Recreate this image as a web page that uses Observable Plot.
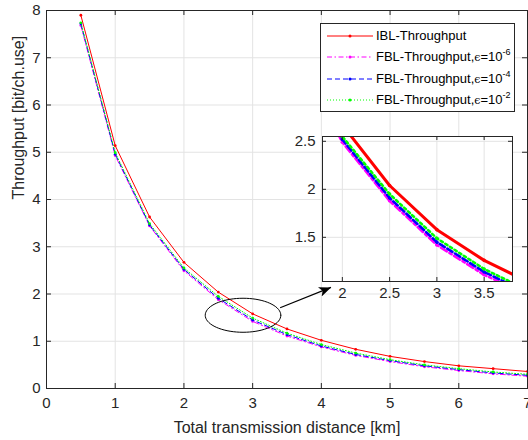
<!DOCTYPE html>
<html><head><meta charset="utf-8">
<script src="https://cdn.jsdelivr.net/npm/d3@7"></script>
<script src="https://cdn.jsdelivr.net/npm/@observablehq/plot@0.6"></script>
<style>
body{margin:0;background:#fff;}
#wrap{position:relative;width:528px;height:440px;font-family:"Liberation Sans",Arial,sans-serif;color:#262626;overflow:hidden;}
#main,#inset,#legend{position:absolute;}
#main{left:0;top:0;}
#legend{left:320px;top:23px;width:195px;height:89px;box-sizing:border-box;border:1px solid #262626;background:#fff;font-size:13px;}
.row{position:absolute;left:0;height:20px;width:100%;}
.row svg{position:absolute;left:6px;top:5px;}
.row span.t{position:absolute;left:55px;top:2px;white-space:nowrap;color:#000;}
.eps{font-family:"DejaVu Serif",serif;font-size:11px;}
sup{font-size:9px;vertical-align:6px;line-height:0;}
</style></head><body>
<div id="wrap"><div id="main"></div><div id="inset"></div><div id="legend"></div></div>
<script>
// ---- data ----
const distance = [0.5, 1, 1.5, 2, 2.5, 3, 3.5, 4, 4.5, 5, 5.5, 6, 6.5, 7];
const iblThroughput = [7.90, 5.14, 3.63, 2.67, 2.04, 1.58, 1.26, 1.02, 0.83, 0.68, 0.57, 0.48, 0.42, 0.36];
const fblEps6 = [7.68, 4.93, 3.44, 2.49, 1.88, 1.42, 1.11, 0.88, 0.70, 0.57, 0.46, 0.38, 0.31, 0.26];
const fblEps4 = [7.72, 4.96, 3.46, 2.52, 1.91, 1.45, 1.14, 0.90, 0.72, 0.59, 0.48, 0.40, 0.33, 0.28];
const fblEps2 = [7.74, 4.99, 3.49, 2.55, 1.95, 1.49, 1.17, 0.93, 0.75, 0.61, 0.50, 0.42, 0.35, 0.30];
const seriesKeys = ["ibl", "e6", "e4", "e2"];
const seriesValues = [iblThroughput, fblEps6, fblEps4, fblEps2];
const legendExponents = [null, "-6", "-4", "-2"];
const xTicks = [0, 1, 2, 3, 4, 5, 6, 7];
const yTicks = [0, 1, 2, 3, 4, 5, 6, 7, 8];
const insetXTicks = [2, 2.5, 3, 3.5];
const insetYTicks = [1.5, 2, 2.5];
const xLabel = "Total transmission distance [km]";
const yLabel = "Throughput [bit/ch.use]";
// annotation (data units)
const ellipseCenter = [2.86, 1.55];
const ellipseRadii = [0.55, 0.36];
const arrowStart = [3.40, 1.71];
const arrowEnd = [4.14, 2.14];

// ---- styles ----
const ink = "#262626";
const gridColor = "#e3e3e3";
const seriesStyle = {
  ibl: {color: "#ff0000", dash: null, dashInset: null},
  e6: {color: "#ff00ff", dash: "5,2.5,1.5,2.5", dashInset: "7,3,2.5,3"},
  e4: {color: "#0000ff", dash: "5,3", dashInset: "6,3"},
  e2: {color: "#00ff00", dash: "1,2", dashInset: "2.5,3"}
};
const font = '"Liberation Sans", Arial, sans-serif';
const fmt = d => String(d);

const rows = seriesKeys.flatMap((k, s) => distance.map((x, i) => ({key: k, x, y: seriesValues[s][i]})));
const byKey = k => rows.filter(d => d.key === k);

// ---- main plot ----
const W = 528, H = 440, mL = 46, mR = 1, mT = 10, mB = 52;
const pW = W - mL - mR, pH = H - mT - mB;
const ellipsePts = d3.range(0, 361, 5).map(a => ({
  x: ellipseCenter[0] + ellipseRadii[0] * Math.cos(a * Math.PI / 180),
  y: ellipseCenter[1] + ellipseRadii[1] * Math.sin(a * Math.PI / 180)
}));

const mainMarks = [
  Plot.gridX(xTicks, {stroke: gridColor, strokeOpacity: 1}),
  Plot.gridY(yTicks, {stroke: gridColor, strokeOpacity: 1}),
];
for (const k of seriesKeys) {
  const st = seriesStyle[k];
  mainMarks.push(Plot.line(byKey(k), {x: "x", y: "y", stroke: st.color, strokeWidth: 1, strokeDasharray: st.dash}));
  mainMarks.push(Plot.dot(byKey(k), {x: "x", y: "y", r: 1.4, fill: st.color, stroke: null}));
}
mainMarks.push(
  Plot.line(ellipsePts, {x: "x", y: "y", stroke: "#000", strokeWidth: 1}),
  Plot.link([{x1: arrowStart[0], y1: arrowStart[1], x2: arrowEnd[0], y2: arrowEnd[1]}],
    {x1: "x1", y1: "y1", x2: "x2", y2: "y2", stroke: "#000", strokeWidth: 1.2, className: "arrowlink"}),
  Plot.frame({stroke: ink}),
  Plot.tickX(xTicks, {x: d => d, insetTop: pH - 5, stroke: ink}),
  Plot.tickX(xTicks, {x: d => d, insetBottom: pH - 5, stroke: ink}),
  Plot.tickY(yTicks, {y: d => d, insetLeft: pW - 5, stroke: ink}),
  Plot.tickY(yTicks, {y: d => d, insetRight: pW - 5, stroke: ink}),
  Plot.axisX({ticks: xTicks, tickFormat: fmt, tickSize: 0, tickPadding: 9, label: null, fontSize: 15}),
  Plot.axisY({ticks: yTicks, tickFormat: fmt, tickSize: 0, tickPadding: 6, label: null, fontSize: 15}),
  Plot.text([xLabel], {frameAnchor: "bottom", dy: 39, fontSize: 16, lineAnchor: "middle"}),
  Plot.text([yLabel], {frameAnchor: "left", dx: -28, rotate: -90, fontSize: 16, lineAnchor: "middle"})
);

const main = Plot.plot({
  width: W, height: H, marginLeft: mL, marginRight: mR, marginTop: mT, marginBottom: mB,
  x: {domain: [0, 7]}, y: {domain: [0, 8]},
  style: {fontFamily: font, fontSize: "15px", color: ink, background: "white", overflow: "visible"},
  marks: mainMarks
});
document.getElementById("main").appendChild(main);
// filled arrow head
const svgSel = d3.select(main);
const defs = svgSel.insert("defs", ":first-child");
defs.append("marker").attr("id", "ahead").attr("markerUnits", "userSpaceOnUse")
  .attr("markerWidth", 14).attr("markerHeight", 10).attr("refX", 12).attr("refY", 5).attr("orient", "auto")
  .append("path").attr("d", "M0,0 L12,5 L0,10 L3,5 Z").attr("fill", "#000");
svgSel.selectAll(".arrowlink path").attr("marker-end", "url(#ahead)");

// ---- inset ----
const iL = 40, iR = 8, iT = 8, iB = 27, iPW = 190, iPH = 145;
const insetMarks = [
  Plot.frame({fill: "white", stroke: null}),
  Plot.gridX(insetXTicks, {stroke: gridColor, strokeOpacity: 1}),
  Plot.gridY(insetYTicks, {stroke: gridColor, strokeOpacity: 1}),
];
for (const k of seriesKeys) {
  const st = seriesStyle[k];
  insetMarks.push(Plot.line(byKey(k), {x: "x", y: "y", stroke: st.color, strokeWidth: k === "ibl" ? 3 : 2.6, strokeDasharray: st.dashInset, clip: true}));
  insetMarks.push(Plot.dot(byKey(k), {x: "x", y: "y", r: 1.8, fill: st.color, stroke: null, clip: true}));
}
insetMarks.push(
  Plot.frame({stroke: ink}),
  Plot.tickX(insetXTicks, {x: d => d, insetTop: iPH - 4, stroke: ink}),
  Plot.tickX(insetXTicks, {x: d => d, insetBottom: iPH - 4, stroke: ink}),
  Plot.tickY(insetYTicks, {y: d => d, insetLeft: iPW - 4, stroke: ink}),
  Plot.tickY(insetYTicks, {y: d => d, insetRight: iPW - 4, stroke: ink}),
  Plot.axisX({ticks: insetXTicks, tickFormat: fmt, tickSize: 0, tickPadding: 6, label: null, fontSize: 15}),
  Plot.axisY({ticks: insetYTicks, tickFormat: fmt, tickSize: 0, tickPadding: 7, label: null, fontSize: 15})
);
const inset = Plot.plot({
  width: iL + iPW + iR, height: iT + iPH + iB,
  marginLeft: iL, marginRight: iR, marginTop: iT, marginBottom: iB,
  x: {domain: [1.79, 3.8]}, y: {domain: [1.04, 2.55]},
  style: {fontFamily: font, fontSize: "15px", color: ink, background: "transparent", overflow: "visible"},
  marks: insetMarks
});
const insetDiv = document.getElementById("inset");
insetDiv.style.left = (322 - iL) + "px";
insetDiv.style.top = (136 - iT) + "px";
insetDiv.appendChild(inset);

// ---- legend ----
const legend = document.getElementById("legend");
seriesKeys.forEach((k, i) => {
  const st = seriesStyle[k];
  const row = document.createElement("div");
  row.className = "row";
  row.style.top = (2 + i * 21.3) + "px";
  const s = d3.create("svg").attr("width", 46).attr("height", 10);
  s.append("line").attr("x1", 0).attr("x2", 46).attr("y1", 5).attr("y2", 5)
    .attr("stroke", st.color).attr("stroke-width", 1).attr("stroke-dasharray", st.dash);
  s.append("circle").attr("cx", 23).attr("cy", 5).attr("r", 1.5).attr("fill", st.color);
  row.appendChild(s.node());
  const t = document.createElement("span");
  t.className = "t";
  if (legendExponents[i] === null) t.textContent = "IBL-Throughput";
  else t.innerHTML = 'FBL-Throughput,<span class="eps">ϵ</span>=10<sup>' + legendExponents[i] + '</sup>';
  row.appendChild(t);
  legend.appendChild(row);
});
</script>
</body></html>
